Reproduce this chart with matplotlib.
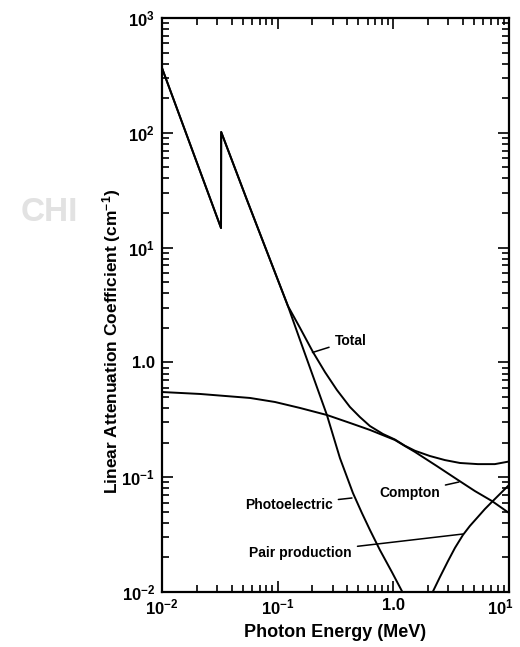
import numpy as np
import matplotlib
matplotlib.use("Agg")
import matplotlib.pyplot as plt
import matplotlib.transforms as mtransforms
from matplotlib.ticker import FixedLocator, LogLocator, NullFormatter

plt.rcParams['font.family'] = ['Liberation Sans', 'DejaVu Sans']
plt.rcParams['font.weight'] = 'bold'
plt.rcParams['mathtext.fontset'] = 'custom'
plt.rcParams['mathtext.rm'] = 'Liberation Sans:bold'
plt.rcParams['mathtext.it'] = 'Liberation Sans:bold'
plt.rcParams['mathtext.bf'] = 'Liberation Sans:bold'

# ---------------------------------------------------------
# Data (energy in MeV, mu in cm^-1)
# ---------------------------------------------------------
photo_E = [0.01, 0.0324, 0.0325, 0.0543, 0.1227, 0.156, 0.2018, 0.2667, 0.3454, 0.4477,
           0.535, 0.628, 0.766, 0.973, 1.186, 1.39]
photo_mu = [367, 14.8, 101.6, 26.0, 3.10, 1.57, 0.762, 0.348, 0.147, 0.0728,
            0.0488, 0.0347, 0.0232, 0.0149, 0.0102, 0.0077]

total_E = [0.01, 0.0324, 0.0325, 0.0543, 0.1227, 0.156, 0.2018, 0.2563, 0.3254, 0.4217,
           0.5145, 0.628, 0.813, 1.032, 1.259, 1.538, 2.07, 2.79, 3.77, 5.38, 7.55, 10.0]
total_mu = [367, 14.8, 101.6, 26.0, 3.10, 2.0, 1.233, 0.825, 0.575, 0.409,
            0.334, 0.279, 0.238, 0.213, 0.188, 0.170, 0.153, 0.141, 0.133, 0.130, 0.130, 0.137]

compton_E = [0.01, 0.0213, 0.0577, 0.0948, 0.156, 0.267, 0.4217, 0.628, 1.032, 1.259,
             1.538, 2.38, 3.62, 5.07, 7.11, 10.0]
compton_mu = [0.552, 0.531, 0.490, 0.452, 0.401, 0.348, 0.297, 0.258, 0.211, 0.187,
              0.166, 0.125, 0.0946, 0.0758, 0.0621, 0.0488]

pair_E = [1.99, 2.20, 2.53, 2.97, 3.41, 4.00, 4.59, 5.38, 6.19, 7.11, 8.51, 10.0]
pair_mu = [0.0085, 0.0101, 0.0135, 0.0186, 0.0242, 0.0314, 0.0376, 0.045, 0.0528, 0.0608, 0.0728, 0.0855]

x_ticks = [0.01, 0.1, 1.0, 10.0]
x_labels = [r'$10^{-2}$', r'$10^{-1}$', '1.0', r'$10^{1}$']
y_ticks = [0.01, 0.1, 1.0, 10.0, 100.0, 1000.0]
y_labels = [r'$10^{-2}$', r'$10^{-1}$', '1.0', r'$10^{1}$', r'$10^{2}$', r'$10^{3}$']

# curve labels: (text, text position, leader end on curve, alignment)
labels = [
    ('Total', (0.31, 1.55), (0.20, 1.22), 'left'),
    ('Photoelectric', (0.30, 0.0573), (0.439, 0.0659), 'right'),
    ('Compton', (2.53, 0.0728), (3.69, 0.0908), 'right'),
    ('Pair production', (0.439, 0.0219), (4.0, 0.032), 'right'),
]

# ---------------------------------------------------------
# Plot
# ---------------------------------------------------------
fig = plt.figure(figsize=(5.2, 6.47), dpi=100)
ax = fig.add_axes([0.3115, 0.0850, 0.6673, 0.8872])

lw = 1.4
for E, mu in [(photo_E, photo_mu), (total_E, total_mu), (compton_E, compton_mu), (pair_E, pair_mu)]:
    ax.plot(E, mu, color='black', lw=lw, solid_joinstyle='round')

ax.set_xscale('log')
ax.set_yscale('log')
ax.set_xlim(0.01, 10)
ax.set_ylim(0.01, 1000)

ax.xaxis.set_major_locator(FixedLocator(x_ticks))
ax.set_xticklabels(x_labels)
ax.yaxis.set_major_locator(FixedLocator(y_ticks))
ax.set_yticklabels(y_labels)
ax.xaxis.set_minor_locator(LogLocator(base=10, subs=np.arange(2, 10)))
ax.yaxis.set_minor_locator(LogLocator(base=10, subs=np.arange(2, 10)))
ax.xaxis.set_minor_formatter(NullFormatter())
ax.yaxis.set_minor_formatter(NullFormatter())

ax.tick_params(which='both', direction='in', top=True, right=True, width=1.2, colors='black')
ax.tick_params(which='major', length=8, labelsize=12)
ax.tick_params(which='minor', length=5)
ax.tick_params(axis='x', pad=4)
ax.tick_params(axis='y', pad=5)
for s in ax.spines.values():
    s.set_linewidth(1.6)

# last x label sits at the very edge of the page; pull it in a little
last = ax.get_xticklabels()[-1]
last.set_transform(last.get_transform() + mtransforms.ScaledTranslation(-6 / 72, 0, fig.dpi_scale_trans))

for txt, pos, end, ha in labels:
    ax.annotate(txt, xy=end, xytext=pos, ha=ha, va='center', fontsize=10, fontweight='bold',
                arrowprops=dict(arrowstyle='-', color='black', lw=1.1, shrinkA=2, shrinkB=0))

fig.text(0.645, 0.022, 'Photon Energy (MeV)', ha='center', va='center', fontsize=13, fontweight='bold')
fig.text(0.214, 0.472, r'Linear Attenuation Coefficient (cm$^{-1}$)', rotation=90,
         ha='center', va='center', fontsize=12.5, fontweight='bold')

# faint scan watermark
fig.text(0.04, 0.672, 'CHI', color='#e2e2e2', fontsize=24, fontweight='bold', ha='left', va='center', zorder=0)

fig.savefig('out.png', dpi=100)
